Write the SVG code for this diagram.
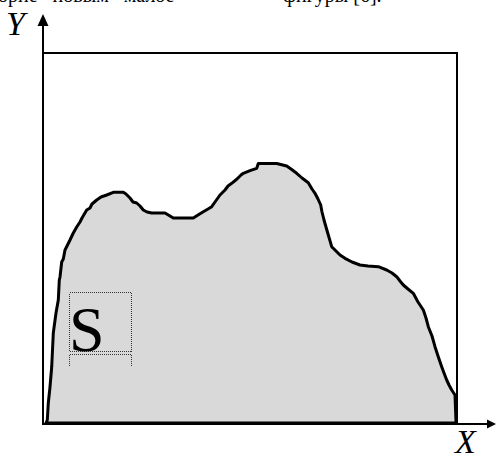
<svg xmlns="http://www.w3.org/2000/svg" width="496" height="454" viewBox="0 0 496 454">
<style>
.ax{stroke:#000;stroke-width:2;fill:none}
.lbl{font-family:"Liberation Serif","Times New Roman",serif;font-style:italic;font-size:34px;fill:#000}
.top{font-family:"Liberation Serif","Times New Roman",serif;font-size:20px;fill:#000}
.dot{stroke:#333;stroke-width:1;stroke-dasharray:1 1;fill:none;shape-rendering:crispEdges}
</style>
<rect width="496" height="454" fill="#fff"/>
<text class="top" x="-2" y="2" xml:space="preserve">орие   новым   малое</text>
<text class="top" x="283" y="2">фигуры [6].</text>
<g id="shape">
<path d="M46,423 L47.3,420 L48.3,403 L50,387 L51.7,367 L53.3,333 L56,313 L58.3,300 L59.3,280 L60,277 L61.7,262 L63.3,259 L65,250 L68,244 L70,240 L73.3,233 L76.7,227 L80,222 L82,218 L86.7,210 L90,208 L92,204 L96.7,200 L101,197 L106.7,195 L113.3,192.3 L123.3,192.3 L126,194 L130,198 L133,202 L136.7,203 L140,206 L143.3,210 L147,212 L151.7,213 L165,213 L173.3,218 L193.3,218 L198,215 L203.3,211.7 L208,209 L211.7,206.7 L215,202 L220,195 L225,190 L228,186 L231.7,183.3 L237,179 L241,175 L243.3,173.3 L250,170.7 L256.7,168.3 L258.3,163.5 L276.7,163.5 L286.7,166 L291,169 L296.7,173.3 L302,178 L308.3,182.7 L312,189 L315,193.3 L318,199 L320.7,205 L322,212 L324,220 L326,227 L328.3,235 L331.7,246.7 L336,251 L340,255 L345,258.3 L352,262 L360,265 L368,266 L378.3,266.7 L386.7,270 L392,273 L396.7,276.7 L400,281 L403.3,285 L408,289 L413.3,293.3 L418,302 L423.3,310 L426,318 L428.3,326.7 L432,336 L435,346.7 L438,356 L441.7,366.7 L444,373 L446.7,380 L449,385 L451.7,390 L455,395 L456,422 L456,423 Z" fill="#d9d9d9" stroke="#000" stroke-width="3" stroke-linejoin="round"/>
</g>
<g id="frame">
<polyline class="ax" points="43,53 457,53 457,424"/>
</g>
<g id="axes">
<line class="ax" x1="43" y1="24" x2="43" y2="424"/>
<polygon points="43,14 37.5,26 48.5,26" fill="#000"/>
<line class="ax" x1="42" y1="424" x2="488" y2="424"/>
<polygon points="496,424 487,419.5 487,428.5" fill="#000"/>
</g>
<g id="labels">
<text class="lbl" x="6" y="35">Y</text>
<text class="lbl" x="455" y="453">X</text>
</g>
<g id="s-box">
<rect class="dot" x="69.5" y="292.5" width="62" height="59"/>
<line class="dot" x1="69.5" y1="354.5" x2="131.5" y2="354.5"/>
<line class="dot" x1="69.5" y1="354.5" x2="69.5" y2="367"/>
<line class="dot" x1="131.5" y1="354.5" x2="131.5" y2="367"/>
<text x="69" y="351" font-family="Liberation Serif, Times New Roman, serif" font-size="64" fill="#000">S</text>
</g>
</svg>
